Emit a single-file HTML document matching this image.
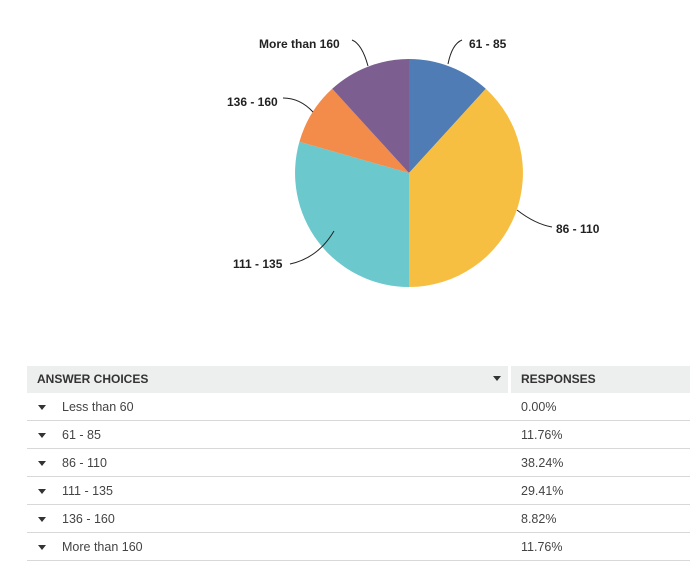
<!DOCTYPE html>
<html><head><style>
body{margin:0;width:690px;height:563px;background:#fff;font-family:"Liberation Sans",sans-serif;position:relative;overflow:hidden}
.t{position:absolute;left:27px;top:366px;width:663px}
.h{height:27px;background:#edeeee;position:relative;font-size:12px;font-weight:bold;color:#333}
.h span{position:absolute;top:6px}
.r{height:27px;border-bottom:1px solid #d8d8d8;position:relative;font-size:12.5px;color:#444}
.r span{position:absolute;top:7px}
.tri{position:absolute;width:0;height:0;border-left:4px solid transparent;border-right:4px solid transparent;border-top:5px solid #333}
</style></head><body>
<svg width="690" height="340" style="position:absolute;left:0;top:0">
<path d="M409,173 L409,59 A114,114 0 0 1 485.8,88.8 Z" fill="#507cb6"/>
<path d="M409,173 L485.8,88.8 A114,114 0 0 1 409,287 Z" fill="#f7bf41"/>
<path d="M409,173 L409,287 A114,114 0 0 1 299.4,141.8 Z" fill="#6bc8cd"/>
<path d="M409,173 L299.4,141.8 A114,114 0 0 1 332.2,88.8 Z" fill="#f38b4a"/>
<path d="M409,173 L332.2,88.8 A114,114 0 0 1 409,59 Z" fill="#7c5f90"/>
<g fill="none" stroke="#222" stroke-width="1">
<path d="M448,64 Q452,44 462,40"/>
<path d="M517,210 Q535,224 552,227"/>
<path d="M334,231 Q318,258 290,264"/>
<path d="M313,112 Q300,98 283,98"/>
<path d="M368,66 Q362,44 352,40"/>
</g>
<g font-size="12" font-weight="bold" fill="#222">
<text x="469" y="48">61 - 85</text>
<text x="556" y="233">86 - 110</text>
<text x="233" y="268">111 - 135</text>
<text x="227" y="106">136 - 160</text>
<text x="259" y="48">More than 160</text>
</g>
</svg>
<div class="t">
<div class="h"><span style="left:10px">ANSWER CHOICES</span><div class="tri" style="left:466px;top:10px"></div><div style="position:absolute;left:481px;top:0;width:3px;height:27px;background:#fff"></div><span style="left:494px">RESPONSES</span></div>
<div class="r"><div class="tri" style="left:11px;top:12px"></div><span style="left:35px">Less than 60</span><span style="left:494px">0.00%</span></div>
<div class="r"><div class="tri" style="left:11px;top:12px"></div><span style="left:35px">61 - 85</span><span style="left:494px">11.76%</span></div>
<div class="r"><div class="tri" style="left:11px;top:12px"></div><span style="left:35px">86 - 110</span><span style="left:494px">38.24%</span></div>
<div class="r"><div class="tri" style="left:11px;top:12px"></div><span style="left:35px">111 - 135</span><span style="left:494px">29.41%</span></div>
<div class="r"><div class="tri" style="left:11px;top:12px"></div><span style="left:35px">136 - 160</span><span style="left:494px">8.82%</span></div>
<div class="r"><div class="tri" style="left:11px;top:12px"></div><span style="left:35px">More than 160</span><span style="left:494px">11.76%</span></div>
</div>
</body></html>
